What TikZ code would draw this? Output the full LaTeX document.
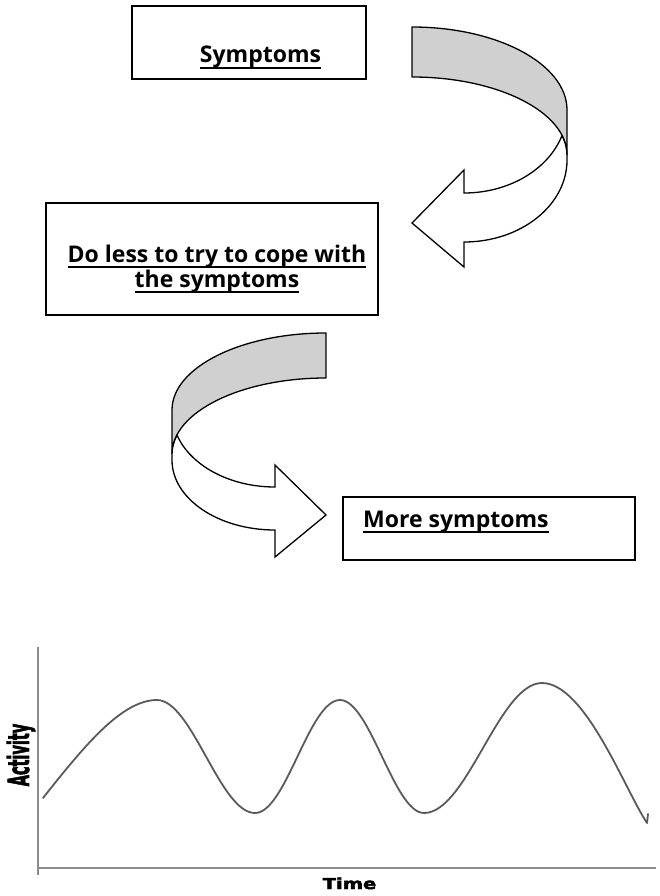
\documentclass[tikz,border=0pt]{standalone}
\usepackage{fontspec}
\setmainfont{Open Sans}
\newfontfamily\heavy{DejaVu Sans Bold}[FakeBold=3]
\newcommand\myul[1]{\setbox0\hbox{#1}\rlap{\vrule width \wd0 height -4pt depth 5.8pt}\box0}
\definecolor{bandgrey}{HTML}{D0D0D0}
\definecolor{axisgrey}{HTML}{8C8C8C}
\definecolor{curvegrey}{HTML}{5A5A5A}
\tikzset{
  box/.style={draw=black, line width=1.6pt, fill=white, inner sep=0pt},
  boxtext/.style={font=\fontsize{23}{27}\selectfont\bfseries, inner sep=0pt},
  arrowgrey/.style={draw=black, line width=1.3pt, fill=bandgrey, line join=round},
  arrowwhite/.style={draw=black, line width=1.3pt, fill=white, line join=miter},
  axis/.style={draw=axisgrey, line width=1.5pt},
  curve/.style={draw=curvegrey, line width=1.8pt, line cap=round, line join=round},
  axislabel/.style={font=\heavy\fontsize{10}{12}\selectfont, inner sep=0pt}
}
\begin{document}
\begin{tikzpicture}[x=1pt,y=1pt]
\useasboundingbox (0,0) rectangle (660,-896);
% boxes
\node[box, minimum width=234pt, minimum height=73pt] (b1) at (249,-42.5) {};
\node[box, minimum width=332pt, minimum height=112pt] (b2) at (212,-259) {};
\node[box, minimum width=292pt, minimum height=63pt] (b3) at (489,-528.5) {};
\node[boxtext, anchor=base] (t1) at (260.5,-63) {\myul{Symptoms}};
\node[boxtext, anchor=base] (t2a) at (217,-262) {\myul{Do less to try to cope with}};
\node[boxtext, anchor=base] (t2b) at (217,-287) {\myul{the symptoms}};
\node[boxtext, anchor=base west] (t3) at (363,-527) {\myul{More symptoms}};
% curved arrow 1
\path[arrowgrey] (412,-27) arc[start angle=90,end angle=0,x radius=155pt,y radius=83pt]
  -- (567,-155) arc[start angle=0,end angle=90,x radius=155pt,y radius=78pt] -- cycle;
\path[arrowwhite] (567,-155) -- (567,-160)
  arc[start angle=0,end angle=-90,x radius=103pt,y radius=82pt]
  -- (464,-267) -- (412,-223) -- (464,-170) -- (464,-193)
  arc[start angle=-90,end angle=-18,x radius=103pt,y radius=83pt]
  arc[start angle=14.6,end angle=0,x radius=155pt,y radius=78pt] -- cycle;
% curved arrow 2
\path[arrowgrey] (326,-333) arc[start angle=90,end angle=180,x radius=154pt,y radius=77pt]
  -- (172,-454) arc[start angle=180,end angle=90,x radius=154pt,y radius=76pt] -- cycle;
\path[arrowwhite] (172,-454) -- (172,-460)
  arc[start angle=180,end angle=270,x radius=103pt,y radius=70pt]
  -- (275,-557) -- (326,-515) -- (275,-465) -- (275,-487)
  arc[start angle=270,end angle=198,x radius=103pt,y radius=75pt]
  arc[start angle=165.3,end angle=180,x radius=154pt,y radius=76pt] -- cycle;
% graph
\coordinate (top) at (38,-647);
\coordinate (origin) at (38,-868);
\coordinate (low) at (38,-875);
\coordinate (right) at (656,-868);
\draw[axis] (top) -- (low);
\draw[axis] (origin) -- (right);
\draw[curve] (43,-798) .. controls (85,-745) and (122,-700) .. (157,-700)
  .. controls (192,-700) and (220,-813) .. (255,-813)
  .. controls (286,-813) and (309,-700) .. (340,-700)
  .. controls (370,-700) and (394,-813) .. (424,-813)
  .. controls (467,-813) and (499,-683) .. (542,-683)
  .. controls (585,-683) and (625,-790) .. (647,-823) -- (648,-814);
\node[axislabel, rotate=90] (ylab) at (21,-755) {\scalebox{1.45}[2.9]{Activity}};
\node[axislabel, anchor=base] (xlab) at (349.5,-889) {\scalebox{1.95}[1.5]{Time}};
\end{tikzpicture}
\end{document}
